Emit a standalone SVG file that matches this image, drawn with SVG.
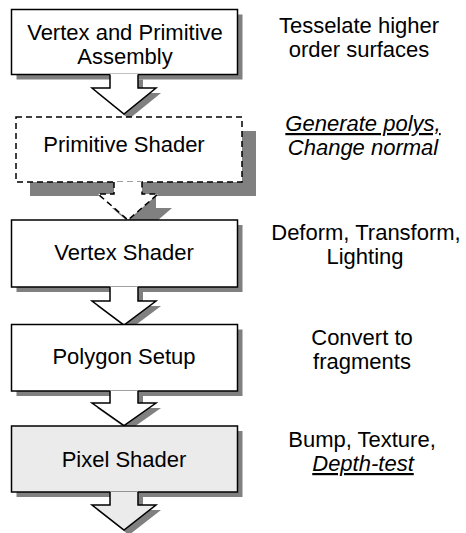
<svg xmlns="http://www.w3.org/2000/svg" width="466" height="533" viewBox="0 0 466 533">
<style>
.sh{fill:#808080;stroke:none}
.box{fill:#ffffff;stroke:#000;stroke-width:1.5}
.dash{fill:#ffffff;stroke:#000;stroke-width:1.5;stroke-dasharray:6 4}
.af{stroke:none}
.al{fill:none;stroke:#000;stroke-width:1.5;stroke-linejoin:miter}
.ald{fill:none;stroke:#000;stroke-width:1.5;stroke-dasharray:6 4}
text{font-family:"Liberation Sans",Arial,sans-serif;font-size:22px;fill:#000;text-anchor:middle}
.it{font-style:italic}
.ul{text-decoration:underline}
</style>
<rect width="466" height="533" fill="#ffffff"/>

<g id="connectors">
<!-- drawn in node groups to keep layering; see arrows below -->
</g>

<g id="n1">
<rect class="sh" x="16.5" y="14.5" width="226" height="65"/>
<polygon class="sh" points="115,79.5 115,93 97,93 129,119 161,93 143,93 143,79.5"/>
<rect class="box" x="11.5" y="9.5" width="226" height="65"/>
<text x="125" y="40">Vertex and Primitive</text>
<text x="125" y="64">Assembly</text>
</g>
<g id="a1">
<polygon class="af" fill="#ffffff" points="110,74 110,88 92,88 124,114 156,88 138,88 138,74"/>
<polyline class="al" points="110,74.5 110,88 92,88 124,114 156,88 138,88 138,74.5"/>
</g>

<g id="n2">
<rect class="sh" x="30" y="131" width="226" height="65"/>
<polygon class="sh" points="128,196 128,208 112,208 142,234 172,208 156,208 156,196"/>
<rect class="dash" x="16" y="117" width="226" height="65"/>
<text x="124" y="152">Primitive Shader</text>
</g>
<g id="a2">
<polygon class="af" fill="#ffffff" points="114,181.5 114,194 98,194 128,220 158,194 142,194 142,181.5"/>
<polyline class="ald" points="114,182 114,194 98,194 128,220 158,194 142,194 142,182"/>
</g>

<g id="n3">
<rect class="sh" x="16.5" y="225" width="226" height="67"/>
<polygon class="sh" points="115,292 115,306 97,306 129,330 161,306 143,306 143,292"/>
<rect class="box" x="11.5" y="220" width="226" height="67"/>
<text x="124" y="260">Vertex Shader</text>
</g>
<g id="a3">
<polygon class="af" fill="#ffffff" points="110,286.5 110,301 92,301 124,325 156,301 138,301 138,286.5"/>
<polyline class="al" points="110,287 110,301 92,301 124,325 156,301 138,301 138,287"/>
</g>

<g id="n4">
<rect class="sh" x="16.5" y="329.5" width="226" height="66.5"/>
<polygon class="sh" points="115,396 115,408 97,408 129,430.5 161,408 143,408 143,396"/>
<rect class="box" x="11.5" y="324.5" width="226" height="66.5"/>
<text x="124" y="364">Polygon Setup</text>
</g>
<g id="a4">
<polygon class="af" fill="#ffffff" points="110,390.5 110,403 92,403 124,425.5 156,403 138,403 138,390.5"/>
<polyline class="al" points="110,391 110,403 92,403 124,425.5 156,403 138,403 138,391"/>
</g>

<g id="n5">
<rect class="sh" x="16.5" y="431" width="226" height="66"/>
<polygon class="sh" points="115,497 115,510 97,510 129,535 161,510 143,510 143,497"/>
<rect class="box" x="11.5" y="426" width="226" height="66" fill="#ebebeb" style="fill:#ebebeb"/>
<text x="124" y="467">Pixel Shader</text>
</g>
<g id="a5">
<polygon class="af" fill="#ebebeb" points="110,491.5 110,505 92,505 124,530 156,505 138,505 138,491.5"/>
<polyline class="al" points="110,492 110,505 92,505 124,530 156,505 138,505 138,492"/>
</g>

<g id="labels">
<text x="359" y="33">Tesselate higher</text>
<text x="359" y="57">order surfaces</text>
<text class="it ul" x="363" y="131">Generate polys,</text>
<text class="it" x="363" y="155">Change normal</text>
<text x="366" y="240">Deform, Transform,</text>
<text x="365" y="264">Lighting</text>
<text x="362" y="345">Convert to</text>
<text x="362" y="369">fragments</text>
<text x="362" y="447">Bump, Texture,</text>
<text class="it ul" x="363" y="471">Depth-test</text>
</g>
</svg>
